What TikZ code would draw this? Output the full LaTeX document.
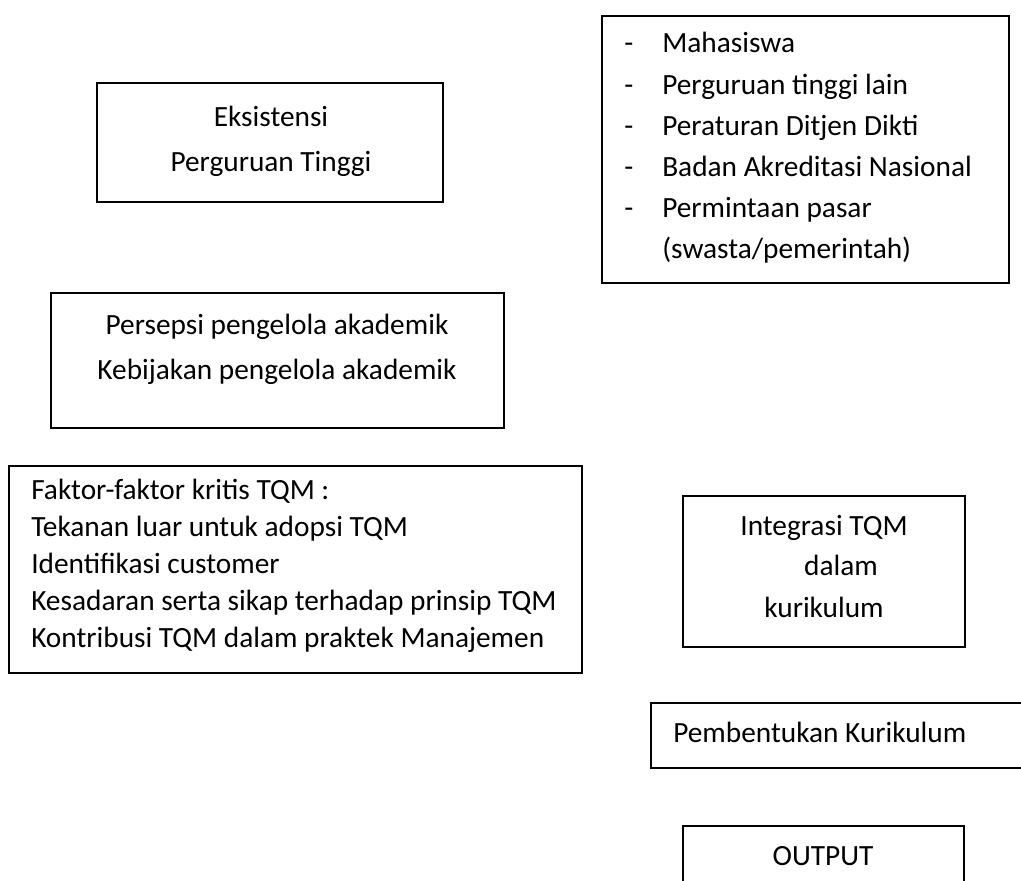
\documentclass[tikz,border=0pt]{standalone}
\usepackage{fontspec}
\setmainfont{Carlito}
\usetikzlibrary{fit}
\begin{document}
\begin{tikzpicture}[x=0.75pt,y=-0.75pt,
  box/.style={draw=black,line width=1.4pt,inner sep=0pt},
  ltxt/.style={anchor=base west,inner sep=0pt,font=\fontsize{22}{26}\selectfont},
  ctxt/.style={anchor=base,inner sep=0pt,font=\fontsize{22}{26}\selectfont}]
\useasboundingbox (0,0) rectangle (1021,881);
\clip (0,0) rectangle (1021,881);
% boxes
\node[box,fit={(602,16) (1009,283)}] (stake) {};
\node[box,fit={(97,83) (443,202)}] (eks) {};
\node[box,fit={(51,293) (504,428)}] (pers) {};
\node[box,fit={(9,466) (582,673)}] (fak) {};
\node[box,fit={(683,496) (965,647)}] (integ) {};
\node[box,fit={(651,703) (1040,768)}] (pemb) {};
\node[box,fit={(683,826) (964,900)}] (out) {};
% top-right list
\foreach \y/\t [count=\i] in {53/Mahasiswa,94/Perguruan tinggi lain,135/Peraturan Ditjen Dikti,176/Badan Akreditasi Nasional,217/Permintaan pasar}{
  \node[ltxt] (d\i) at (624,\y) {-};
  \node[ltxt] (s\i) at (662,\y) {\t};
}
\node[ltxt] (s6) at (662,258) {(swasta/pemerintah)};
% Eksistensi
\node[ctxt] (e1) at (271,127) {Eksistensi};
\node[ctxt] (e2) at (271,171) {Perguruan Tinggi};
% Persepsi
\node[ctxt] (p1) at (277,334) {Persepsi pengelola akademik};
\node[ctxt] (p2) at (277,379) {Kebijakan pengelola akademik};
% Faktor
\node[ltxt] (f1) at (31,499) {Faktor-faktor kritis TQM :};
\node[ltxt] (f2) at (31,536) {Tekanan luar untuk adopsi TQM};
\node[ltxt] (f3) at (31,573) {Identifikasi customer};
\node[ltxt] (f4) at (31,610) {Kesadaran serta sikap terhadap prinsip TQM};
\node[ltxt] (f5) at (31,647) {Kontribusi TQM dalam praktek Manajemen};
% Integrasi
\node[ctxt] (i1) at (824,535) {Integrasi TQM};
\node[ctxt] (i2) at (841,575) {dalam};
\node[ctxt] (i3) at (824,617) {kurikulum};
% Pembentukan
\node[ltxt] (pk) at (673,742) {Pembentukan Kurikulum};
% Output
\node[ctxt] (o1) at (823,865) {OUTPUT};
\end{tikzpicture}
\end{document}
